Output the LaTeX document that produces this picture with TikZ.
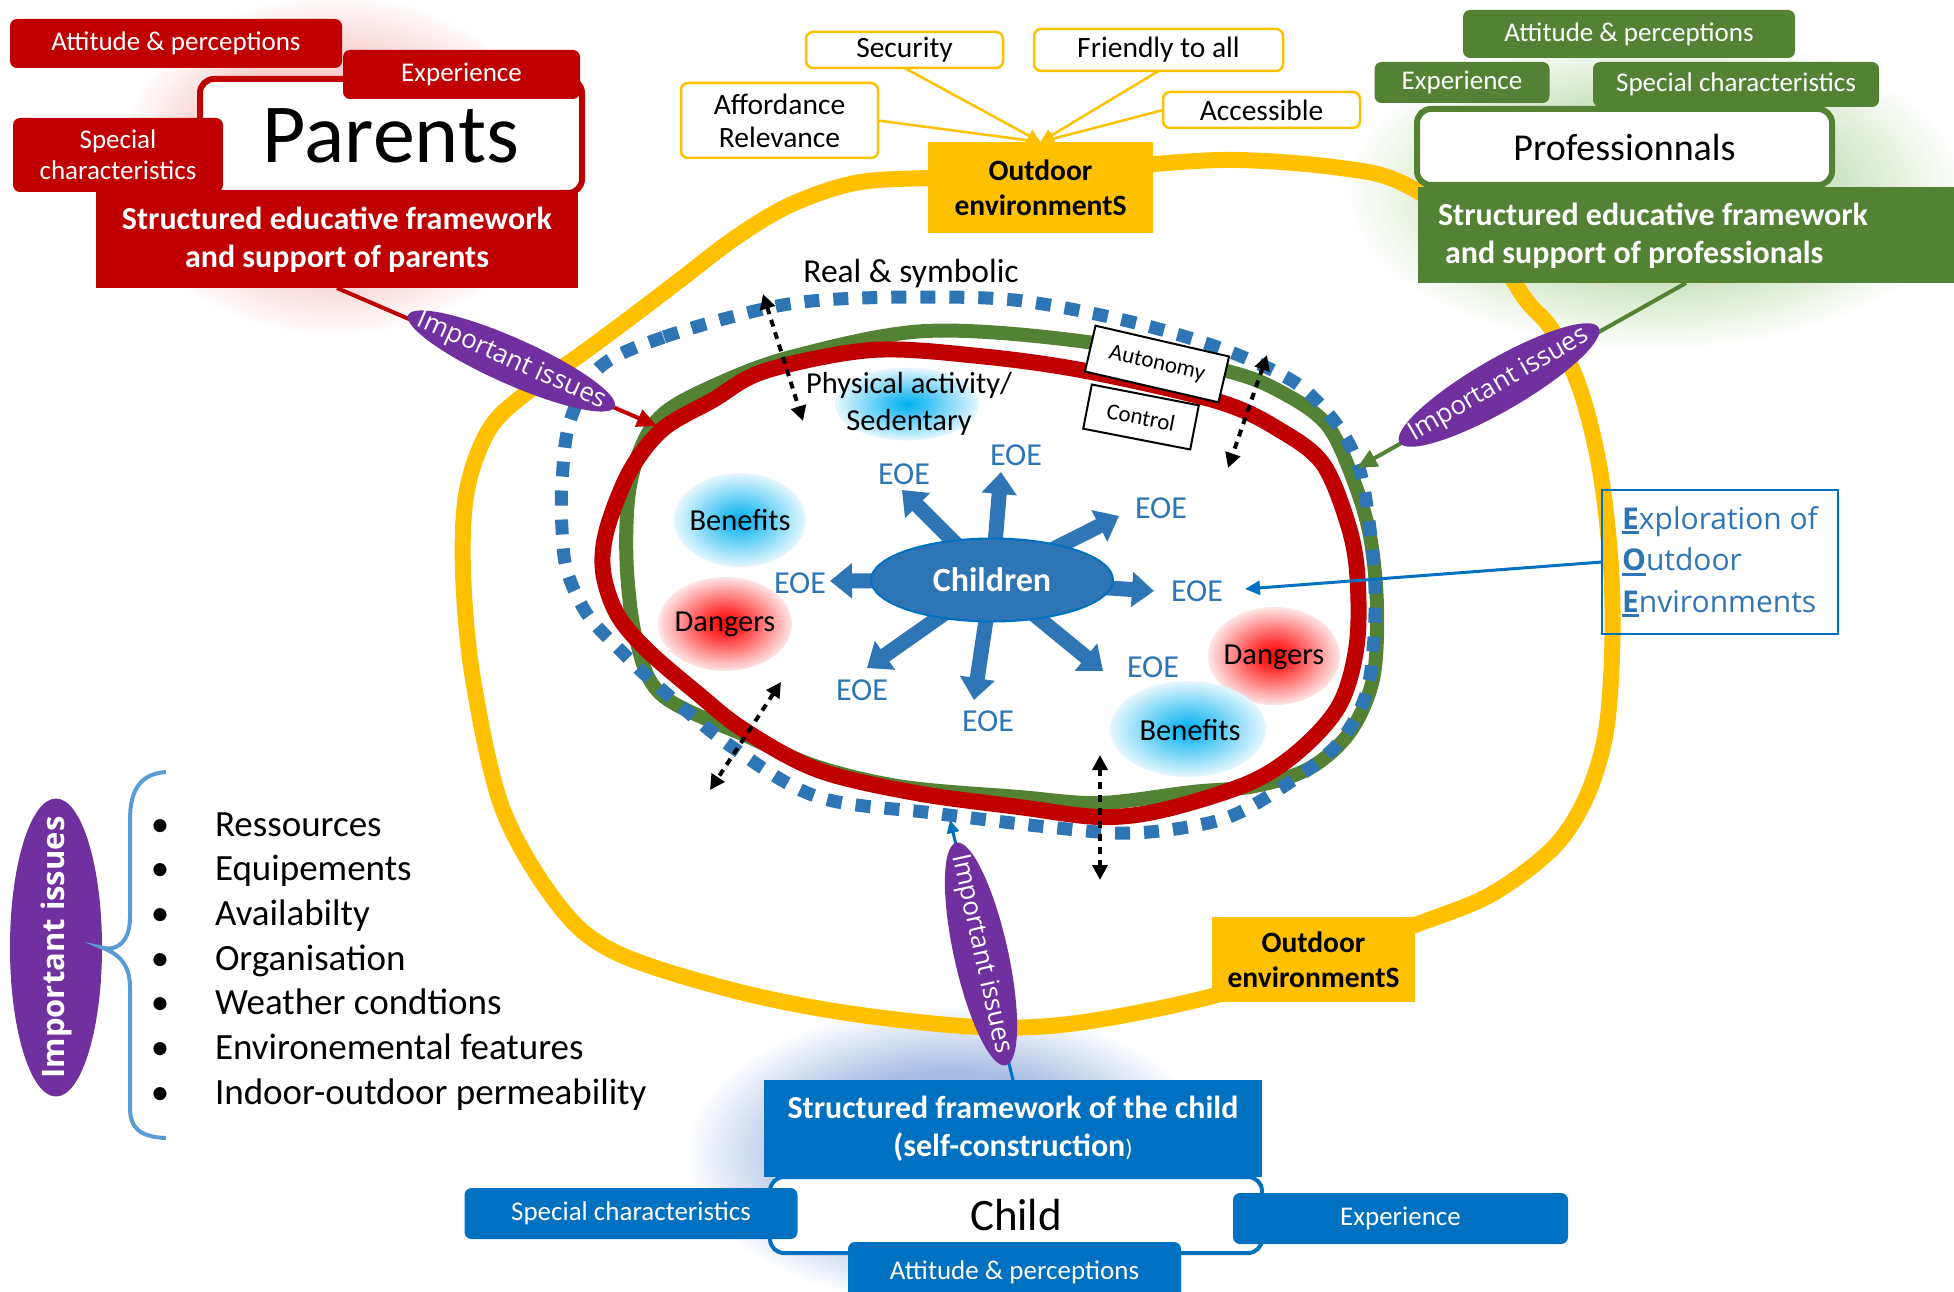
\documentclass[tikz,border=0pt]{standalone}
\usepackage{fontspec}
\setmainfont{Carlito}
\newfontfamily\osans{Open Sans}
\usetikzlibrary{arrows.meta,shapes.geometric}
\newcommand\fsz[2]{\fontsize{#1}{#2}\selectfont}
\newcommand\ulet[1]{\setbox0\hbox{#1}\rlap{\rule[-5pt]{\wd0}{3pt}}\box0}
\definecolor{cyel}{HTML}{FFC000}
\definecolor{cred}{HTML}{C00000}
\definecolor{cgreen}{HTML}{548235}
\definecolor{cdot}{HTML}{2E75B6}
\definecolor{cpurple}{HTML}{7030A0}
\definecolor{cbox}{HTML}{0070C0}
\definecolor{cbrace}{HTML}{5B9BD5}
\definecolor{gblue}{HTML}{00B0F0}
\definecolor{gred}{HTML}{FF0000}
\definecolor{bpink}{HTML}{F8D0D0}
\definecolor{bgreen}{HTML}{D0E5C3}
\definecolor{bblue}{HTML}{A7BDE4}
\colorlet{gblueA}{gblue!80!white}
\colorlet{gblueB}{gblue!10!white}
\colorlet{gredA}{gred!80!white}
\colorlet{gredB}{gred!10!white}
\pgfdeclareradialshading{glowblue}{\pgfpoint{0bp}{0bp}}{color(0bp)=(gblue); color(6bp)=(gblueA); color(25bp)=(gblueB); color(50bp)=(white)}
\pgfdeclareradialshading{glowred}{\pgfpoint{0bp}{0bp}}{color(0bp)=(gred); color(7bp)=(gredA); color(25bp)=(gredB); color(50bp)=(white)}
\pgfdeclareradialshading{blobpink}{\pgfpoint{0bp}{0bp}}{color(0bp)=(bpink); color(16bp)=(bpink); color(25bp)=(white); color(50bp)=(white)}
\pgfdeclareradialshading{blobgreen}{\pgfpoint{0bp}{0bp}}{color(0bp)=(bgreen); color(15bp)=(bgreen); color(25bp)=(white); color(50bp)=(white)}
\pgfdeclareradialshading{blobblue}{\pgfpoint{0bp}{0bp}}{color(0bp)=(bblue); color(14bp)=(bblue); color(25bp)=(white); color(50bp)=(white)}
\begin{document}
\begin{tikzpicture}[x=1pt,y=-1pt,
  every node/.style={inner sep=0pt, outer sep=0pt},
  redlab/.style={fill=cred, text=white, rounded corners=7pt, font=\fsz{27}{31}, align=center},
  greenlab/.style={fill=cgreen, text=white, rounded corners=7pt, font=\fsz{27}{31}, align=center},
  bluelab/.style={fill=cbox, text=white, rounded corners=7pt, font=\fsz{27}{31}, align=center},
  yellab/.style={draw=cyel, line width=2.5pt, fill=white, rounded corners=7pt, font=\fsz{29.5}{33}, align=center},
  outbox/.style={fill=cyel, font=\fsz{29.5}{35}\bfseries, align=center},
  whitebox/.style={fill=white, line width=6pt, rounded corners=14pt},
  bigtitle/.style={font=\fsz{32}{38}\bfseries, text=white, align=center},
  issue/.style={ellipse, fill=cpurple, text=white, font=\osans\fsz{26}{30}},
  glowb/.style={ellipse, shade, shading=glowblue},
  glowr/.style={ellipse, shade, shading=glowred},
  glowtxt/.style={font=\fsz{30.5}{36.6}, align=center},
  eoelab/.style={text=cdot, font=\fsz{32}{35}},
  eoearrow/.style={cdot, line width=15pt, -{Triangle[length=22pt,width=34pt]}},
  dotarr/.style={line width=4pt, dash pattern=on 7pt off 6pt, {Triangle[length=15pt,width=15pt]}-{Triangle[length=15pt,width=15pt]}},
  yconn/.style={cyel, line width=2.5pt, -{Triangle[length=13pt,width=13pt]}},
  ctrlbox/.style={draw, line width=2pt, fill=white, font=\fsz{23}{26}},
  listtxt/.style={font=\fsz{37}{40}},
]
\useasboundingbox (0,0) rectangle (1954,1292);

% background blobs
\shade[shading=blobpink] (335,165) ellipse [x radius=220, y radius=172];
\shade[shading=blobgreen] (1655,190) ellipse [x radius=310, y radius=160];
\shade[shading=blobblue] (950,1155) ellipse [x radius=265, y radius=150];

% big yellow loop
\draw[cyel, line width=16pt] plot[smooth cycle, tension=0.55] coordinates {
(1040,176) (1155,164) (1238,160) (1333,167) (1400,182) (1480,235) (1526,300) (1552,330) (1580,389) (1600,470) (1611,568) (1612,657) (1605,737) (1585,800) (1552,849) (1490,895) (1415,925) (1310,963) (1209,997) (1077,1023) (979,1027) (847,1013) (732,990) (617,953) (560,907) (503,810) (473,679) (463,571) (467,490) (490,428) (530,390) (580,355) (630,318) (680,280) (735,238) (790,205) (855,183) (928,178)};

% glows
\node[glowb, minimum width=132pt, minimum height=94pt] (gb1) at (740,520) {};
\node[glowr, minimum width=134pt, minimum height=94pt] (gr1) at (725,624) {};
\node[glowb, minimum width=144pt, minimum height=73pt] (gpa) at (907,404) {};
\node[glowr, minimum width=132pt, minimum height=98pt] (gr2) at (1274,656) {};
\node[glowb, minimum width=156pt, minimum height=96pt] (gb2) at (1188,729) {};
\node[glowtxt] (tb1) at (740,520) {Benefits};
\node[glowtxt] (td1) at (725,624) {Dangers};
\node[glowtxt] (tpa) at (909,404) {Physical activity/\\Sedentary};
\node[glowtxt] (td2) at (1274,657) {Dangers};
\node[glowtxt] (tb2) at (1190,730) {Benefits};

% green, red, dotted loops
\draw[cgreen, line width=14pt] plot[smooth cycle, tension=0.55] coordinates {
(640,450) (663,414) (713,386) (791,357) (926,331) (1087,342) (1227,371) (1283,393) (1327,425) (1353,479) (1370,536) (1377,607) (1373,679) (1350,732) (1310,768) (1255,786) (1192,792) (1100,803) (1019,797) (904,787) (818,767) (749,737) (663,696) (637,643) (627,571) (628,500)};
\draw[cred, line width=16pt] plot[smooth cycle, tension=0.55] coordinates {
(630,471) (663,429) (713,400) (765,371) (872,350) (979,356) (1086,371) (1220,402) (1283,432) (1323,464) (1347,521) (1357,571) (1357,643) (1340,704) (1300,750) (1249,783) (1163,810) (1100,817) (1019,807) (916,793) (818,770) (744,730) (697,693) (647,650) (617,614) (603,571) (607,529)};
\draw[cdot, line width=13pt, dash pattern=on 15pt off 14pt] plot[smooth cycle, tension=0.55] coordinates {
(600,367) (664,337) (759,310) (823,300) (919,297) (1014,300) (1110,317) (1183,336) (1243,357) (1300,386) (1340,429) (1360,471) (1370,529) (1375,589) (1373,650) (1364,700) (1335,747) (1278,790) (1220,820) (1134,833) (1048,827) (933,813) (818,797) (732,747) (660,688) (620,650) (587,614) (567,571) (562,529) (562,482) (570,421)};

\node[font=\fsz{33.5}{36}] (rs) at (911,274) {Real \& symbolic};

% autonomy / control
\node[ctrlbox, rotate=-13, minimum width=137pt, minimum height=47pt] (auto) at (1157,364) {Autonomy};
\node[ctrlbox, rotate=-11, minimum width=109pt, minimum height=45pt] (ctrl) at (1141,417) {Control};

% dotted double arrows
\coordinate (a1s) at (763,294); \coordinate (a1e) at (803,421);
\coordinate (a2s) at (781,682); \coordinate (a2e) at (710,790);
\coordinate (a3s) at (1267,355); \coordinate (a3e) at (1228,468);
\coordinate (a4s) at (1100,755); \coordinate (a4e) at (1100,880);
\draw[dotarr] (a1s) -- (a1e);
\draw[dotarr] (a2s) -- (a2e);
\draw[dotarr] (a3s) -- (a3e);
\draw[dotarr] (a4s) -- (a4e);

% children and EOE arrows
\coordinate (chc) at (992,580);
\coordinate (t1) at (902,490); \coordinate (t2) at (1001,472);
\coordinate (t3) at (1119,516); \coordinate (t4) at (830,581);
\coordinate (t5) at (1154,591); \coordinate (t6) at (867,668);
\coordinate (t7) at (974,700); \coordinate (t8) at (1103,671);
\foreach \k in {1,...,8} \draw[eoearrow] (chc) -- (t\k);
\node[ellipse, fill=cdot, draw=cbox, line width=2pt, minimum width=242pt, minimum height=83pt, text=white, font=\fsz{34}{36}\bfseries] (children) at (chc) {Children};
\node[eoelab] (e1) at (904,474) {EOE};
\node[eoelab] (e2) at (1016,455) {EOE};
\node[eoelab] (e3) at (1161,508) {EOE};
\node[eoelab] (e4) at (800,583) {EOE};
\node[eoelab] (e5) at (1197,591) {EOE};
\node[eoelab] (e6) at (862,690) {EOE};
\node[eoelab] (e7) at (988,721) {EOE};
\node[eoelab] (e8) at (1153,667) {EOE};

% outdoor environment boxes
\node[outbox, minimum width=225pt, minimum height=91pt] (ob1) at (1040.5,187.5) {Outdoor\\environmentS};
\node[outbox, minimum width=203pt, minimum height=85pt] (ob2) at (1313.5,959.5) {Outdoor\\environmentS};

% top yellow labels
\node[yellab, minimum width=197pt, minimum height=36pt] (sec) at (904.5,50) {Security};
\node[yellab, minimum width=249pt, minimum height=42pt] (fri) at (1158.5,50) {Friendly to all};
\node[yellab, minimum width=197pt, minimum height=75pt] (aff) at (779.5,120.5) {Affordance\\Relevance};
\node[yellab, minimum width=197pt, minimum height=36pt] (acc) at (1261.5,110) {Accessible};
\draw[yconn] (aff.east) -- (ob1.north);
\draw[yconn] (acc.west) -- (ob1.north);
\draw[yconn] (sec.south) -- (ob1.north);
\draw[yconn] (fri.south) -- (ob1.north);

% parents group
\node[whitebox, draw=cred, minimum width=382pt, minimum height=114pt, font=\fsz{84}{90}] (par) at (391,136) {Parents};
\node[redlab, minimum width=332pt, minimum height=49pt] (pap) at (176,43.5) {Attitude \& perceptions};
\node[redlab, minimum width=237pt, minimum height=49pt] (pex) at (461.5,74.5) {Experience};
\node[redlab, minimum width=210pt, minimum height=74pt] (psp) at (118,155) {Special\\characteristics};
\node[fill=cred, bigtitle, minimum width=482pt, minimum height=96pt] (ps) at (337,240) {Structured educative framework\\and support of parents};

% professionals group
\node[whitebox, draw=cgreen, minimum width=415pt, minimum height=76pt, font=\fsz{38}{40}] (gpro) at (1624.5,147) {Professionnals};
\node[greenlab, minimum width=332pt, minimum height=48pt] (gap) at (1629,34) {Attitude \& perceptions};
\node[greenlab, minimum width=175pt, minimum height=41pt] (gex) at (1462,82.5) {Experience};
\node[greenlab, minimum width=286pt, minimum height=45pt] (gsp) at (1736,84.5) {Special characteristics};
\node[fill=cgreen, minimum width=536pt, minimum height=96pt] (gs) at (1686,235) {};
\node[anchor=west, font=\fsz{32}{38}\bfseries, text=white, align=left] (gst) at (1438,236) {Structured educative framework\\\hspace*{7pt}and support of professionals};

% child group
\node[whitebox, draw=cbox, line width=4pt, minimum width=492pt, minimum height=76pt, font=\fsz{45}{48}] (cbx) at (1016,1215) {Child};
\node[fill=cbox, bigtitle, minimum width=498pt, minimum height=97pt] (cs) at (1013,1128.5) {Structured framework of the child\\(self-construction{\mdseries\fsz{24}{24})}};
\node[bluelab, minimum width=333pt, minimum height=51pt] (csp) at (631,1213.5) {Special characteristics};
\node[bluelab, minimum width=335pt, minimum height=51pt] (cex) at (1400.5,1218.5) {Experience};
\node[bluelab, minimum width=333pt, minimum height=60pt] (cap) at (1014.5,1272) {Attitude \& perceptions};

% connectors with important issues
\coordinate (rtip) at (657,426);
\coordinate (gtip) at (1357,468);
\coordinate (ctip) at (950,820);
\coordinate (etip) at (1245,589);
\draw[cred, line width=4pt, -{Triangle[length=20pt,width=18pt]}] (ps.south) -- (rtip);
\draw[cgreen, line width=4pt, -{Triangle[length=20pt,width=18pt]}] (gs.south) -- (gtip);
\draw[cbox, line width=3pt, -{Triangle[length=13pt,width=12pt]}] (cs.north) -- (ctip);
\node[issue, rotate=-24, minimum width=226pt, minimum height=46pt] (pii) at (511.5,361) {\makebox[0pt]{Important issues}};
\node[issue, rotate=30, minimum width=230pt, minimum height=52pt] (gii) at (1499,385) {\makebox[0pt]{Important issues}};
\node[issue, rotate=-77.5, minimum width=228pt, minimum height=54pt] (cii) at (981,954) {\makebox[0pt]{Important issues}};

% EOE definition box
\node[draw=cbox, line width=2.5pt, minimum width=236pt, minimum height=144pt, align=left, text=cdot, font=\osans\fsz{30}{41.5}] (eoebox) at (1720,562) {\ulet{\textbf{E}}xploration of\\\ulet{\textbf{O}}utdoor\\\ulet{\textbf{E}}nvironments};
\draw[cbox, line width=3pt, -{Triangle[length=15pt,width=14pt]}] (eoebox.west) -- (etip);

% left list
\node[ellipse, fill=cpurple, text=white, rotate=90, minimum width=298pt, minimum height=92pt, font=\osans\bfseries\fsz{31}{35}] (lii) at (56,947.5) {\makebox[0pt]{Important issues}};
\draw[cbrace, line width=4pt] (166,772) .. controls (140,774) and (130,790) .. (130,820) -- (130,918) .. controls (130,942) and (116,952) .. (lii.south) .. controls (116,953) and (130,962) .. (130,987) -- (130,1108) .. controls (130,1128) and (140,1137) .. (166,1138);
\foreach \t [count=\i] in {Ressources,Equipements,Availabilty,Organisation,Weather condtions,Environemental features,Indoor-outdoor permeability}{
  \node[listtxt, anchor=base west] (li\i) at (215,{836+44.7*(\i-1)}) {\t};
  \node[listtxt, anchor=base] (lb\i) at (160,{836+44.7*(\i-1)}) {\textbullet};
}
\end{tikzpicture}
\end{document}
